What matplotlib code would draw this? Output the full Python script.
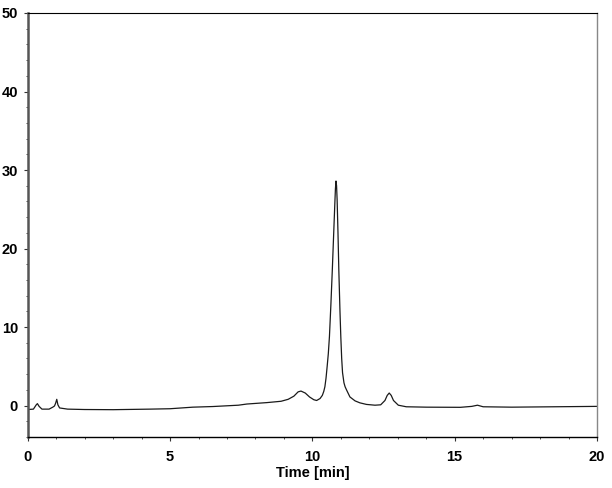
import matplotlib
matplotlib.use("Agg")
import matplotlib.pyplot as plt
from matplotlib.ticker import MultipleLocator

# chromatogram trace (time in min, signal)
time_min = [0.0, 0.2, 0.3, 0.34, 0.4, 0.5, 0.75, 0.88, 0.94, 0.98, 1.02, 1.06,
            1.12, 1.4, 2.0, 3.0, 4.3, 5.0, 5.8, 6.5, 7.4, 7.7, 8.4, 8.9, 9.15,
            9.35, 9.5, 9.6, 9.75, 9.9, 10.05, 10.15, 10.27, 10.35, 10.4, 10.44,
            10.48, 10.52, 10.56, 10.6, 10.65, 10.7, 10.75, 10.79, 10.81, 10.83,
            10.85, 10.87, 10.9, 10.93, 10.97, 11.0, 11.03, 11.06, 11.11, 11.15,
            11.2, 11.32, 11.5, 11.67, 11.9, 12.2, 12.4, 12.55, 12.63, 12.7,
            12.77, 12.85, 13.02, 13.3, 14.0, 15.2, 15.6, 15.8, 16.0, 17.0, 18.5,
            20.0]
signal = [-0.5, -0.45, 0.1, 0.25, -0.1, -0.45, -0.45, -0.2, -0.05, 0.3, 0.8, 0.1,
          -0.3, -0.45, -0.5, -0.52, -0.45, -0.4, -0.2, -0.12, 0.05, 0.2, 0.38,
          0.55, 0.8, 1.2, 1.75, 1.85, 1.6, 1.1, 0.75, 0.65, 0.9, 1.3, 1.8, 2.4,
          3.5, 5.0, 6.6, 8.8, 12.8, 17.2, 22.0, 25.8, 27.6, 28.6, 28.0, 26.2,
          22.0, 17.2, 12.0, 8.7, 6.0, 4.2, 2.9, 2.4, 2.0, 1.1, 0.6, 0.35,
          0.15, 0.05, 0.1, 0.65, 1.3, 1.6, 1.3, 0.65, 0.05, -0.15, -0.2, -0.22,
          -0.1, 0.05, -0.15, -0.2, -0.15, -0.1]

x_ticks = [0, 5, 10, 15, 20]
y_ticks = [0, 10, 20, 30, 40, 50]

plt.rcParams['font.family'] = ['Liberation Sans', 'DejaVu Sans']

fig = plt.figure(figsize=(6.12, 4.88), dpi=100)
ax = fig.add_axes([0.0453, 0.1045, 0.9302, 0.8689])

ax.plot(time_min, signal, color='#1a1a1a', linewidth=0.9)

ax.set_xlim(0, 20)
ax.set_ylim(-4, 50)
ax.set_xticks(x_ticks)
ax.set_yticks(y_ticks)
ax.xaxis.set_minor_locator(MultipleLocator(1))
ax.yaxis.set_minor_locator(MultipleLocator(2))

for lab in ax.get_xticklabels() + ax.get_yticklabels():
    lab.set_fontweight('bold')
    lab.set_fontsize(10.5)

ax.tick_params(which='major', direction='out', length=3, width=0.8, pad=4, color='#333333')
ax.tick_params(which='minor', direction='out', length=1.5, width=0.6, color='#333333')
ax.tick_params(axis='x', which='major', pad=6)

ax.spines['left'].set_color('#555555')
ax.spines['left'].set_linewidth(1.8)
ax.spines['right'].set_color('#888888')
ax.spines['right'].set_linewidth(1.0)
ax.spines['top'].set_color('black')
ax.spines['top'].set_linewidth(0.8)
ax.spines['bottom'].set_color('black')
ax.spines['bottom'].set_linewidth(1.0)

ax.set_xlabel('Time [min]', fontsize=10.5, fontweight='bold', labelpad=2)

fig.savefig('out.png', dpi=100)
